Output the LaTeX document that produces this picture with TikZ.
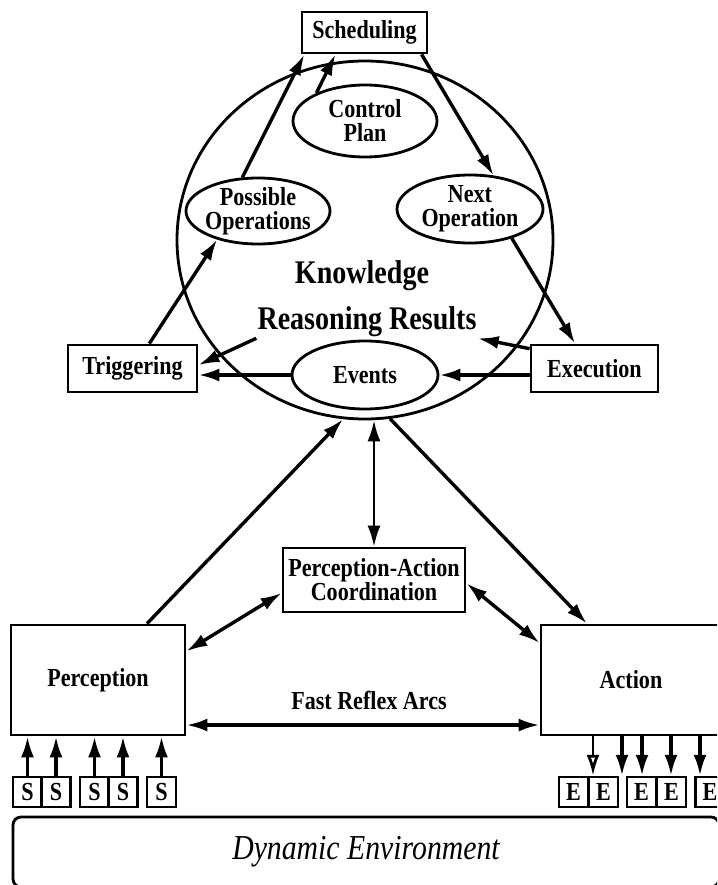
\documentclass[tikz,border=0pt]{standalone}
\usepackage{fontspec}
\setmainfont{Liberation Serif}[FakeStretch=0.85]
\usetikzlibrary{arrows.meta,shapes.geometric}

\newcommand\lbl{\fontsize{26}{24}\selectfont\bfseries}
\newcommand\kbfont{\fontsize{33}{34}\selectfont\bfseries}
\tikzset{
  box/.style={draw, line width=2.8pt, inner sep=0pt, align=center, font=\lbl},
  oval/.style={draw, ellipse, line width=2.8pt, inner xsep=-4pt, inner ysep=-2pt, align=center, font=\lbl},
  sbox/.style={draw, line width=2.4pt, inner sep=0pt, minimum width=29pt, minimum height=30pt, font=\lbl},
  arr/.style={-{Latex[length=21pt,width=13pt]}, line width=3.4pt},
  darr/.style={{Latex[length=21pt,width=13pt]}-{Latex[length=21pt,width=13pt]}, line width=3.4pt}
}

\begin{document}
\begin{tikzpicture}[x=1pt,y=-1pt]
      \useasboundingbox (0,0) rectangle (717,885);
      \clip (0,0) rectangle (717,885);
      % knowledge base
      \node (kb) at (365,240) [draw, ellipse, line width=2.8pt, minimum width=376pt, minimum height=358pt] {};
      \node (know) at (362,276) [font=\kbfont] {Knowledge};
      \node (rr) at (367,322) [font=\kbfont, inner sep=1pt] {Reasoning Results};
      \node (sched) at (364.5,32.5) [box, minimum width=125pt, minimum height=41pt] {Scheduling};
      \node (ctrl) at (365,121) [oval, minimum width=144pt, minimum height=72pt] {Control\\Plan};
      \node (poss) at (258,211) [oval, minimum width=144pt, minimum height=66pt] {Possible\\Operations};
      \node (next) at (470,209) [oval, minimum width=146pt, minimum height=68pt] {Next\\Operation};
      \node (evt) at (365,375) [oval, minimum width=146pt, minimum height=68pt] {Events};
      \node (trig) at (132.5,368.5) [box, minimum width=129pt, minimum height=47pt] {Triggering};
      \node (exec) at (594.5,368.5) [box, minimum width=127pt, minimum height=47pt] {Execution};
      % perception and action
      \node (pac) at (374,580) [box, minimum width=182pt, minimum height=64pt] {Perception-Action\\Coordination};
      \node (perc) at (98,680) [box, minimum width=174pt, minimum height=110pt] {Perception};
      \node (act) at (631,680) [box, minimum width=180pt, minimum height=110pt] {Action};
      \node (fra) at (369,700) [font=\lbl] {Fast Reflex Arcs};
      \node (s1) at (27.5,792) [sbox] {S};
      \node (s2) at (56,792) [sbox] {S};
      \node (s3) at (94.5,792) [sbox] {S};
      \node (s4) at (123,792) [sbox] {S};
      \node (s5) at (161.5,792) [sbox] {S};
      \node (e1) at (573.5,792) [sbox] {E};
      \node (e2) at (603.5,792) [sbox] {E};
      \node (e3) at (641.5,792) [sbox] {E};
      \node (e4) at (671.5,792) [sbox] {E};
      \node (e5) at (710,792) [sbox] {E};
      \node (env) at (366,852) [draw, line width=2.8pt, rounded corners=8pt, minimum width=706pt, minimum height=70pt,
        font=\fontsize{35}{36}\selectfont\itshape] {Dynamic Environment};
      % control cycle
      \draw[arr] (poss.115) -- (sched.200);
      \draw[arr] (ctrl.150) -- (sched.217);
      \draw[arr] (trig.56) -- (poss.215);
      \draw[arr] (sched.-21) -- (next.55);
      \draw[arr] (next.-35) -- (exec.128);
      \draw[arr] (exec.163) -- (rr.south east);
      \draw[arr] (rr.south west) -- (trig.3);
      \draw[arr] (evt.west) -- (evt.west -| trig.east);
      \draw[arr] (evt.east -| exec.west) -- (evt.east);
      % lower links
      \draw[arr] (perc.49) -- (kb.263);
      \draw[darr, line width=2.4pt] (kb.south -| pac.north) -- (pac.north);
      \draw[arr] (kb.278) -- (act.128);
      \draw[darr] (pac.188) -- (perc.18);
      \draw[darr] (pac.-2) -- (act.158);
      \draw[darr] (perc.-27) -- (perc.-27 -| act.west);
      \foreach \i in {1,...,5}
        \draw[arr] (s\i.north) -- (s\i.north |- perc.south);
      \draw[-{Latex[open,length=21pt,width=13pt]}, line width=2.8pt] (593,0 |- act.south) -- (593,0 |- e1.north);
      \foreach \x in {622,642,671,700}
        \draw[arr] (\x,0 |- act.south) -- (\x,0 |- e1.north);
    \end{tikzpicture}
\end{document}
